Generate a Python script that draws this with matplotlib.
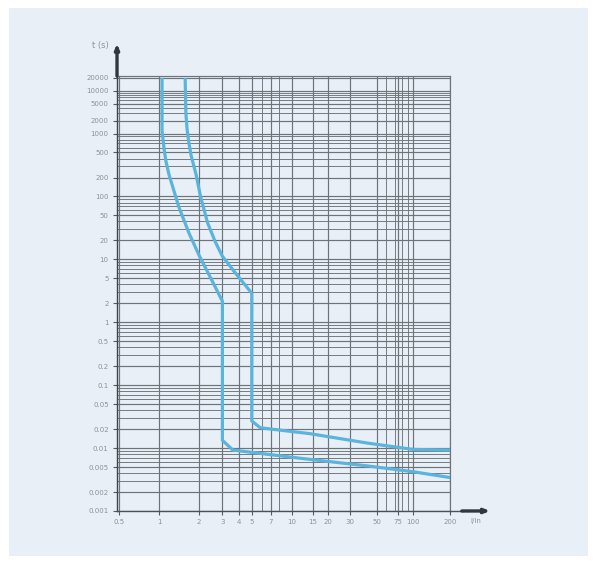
import matplotlib
matplotlib.use("Agg")
import matplotlib.pyplot as plt
from matplotlib.patches import Rectangle
import numpy as np

# tripping curve, I/In vs t (s)
x_min = [1.05, 1.05, 1.09, 1.125, 1.185, 1.27, 1.41, 1.68, 2.0, 2.32, 2.7, 3.0,
         3.0, 3.6, 11.7, 42, 100, 200]
t_min = [20000, 1160, 555, 359, 223, 138, 67, 26, 11.6, 6.3, 3.36, 2.16,
         0.0133, 0.0093, 0.0069, 0.0052, 0.0042, 0.0034]

x_max = [1.57, 1.59, 1.62, 1.66, 1.74, 1.9, 2.05, 2.32, 2.65, 3.0, 3.85, 5.0,
         5.0, 5.8, 14, 42, 100, 200]
t_max = [20000, 3000, 1350, 800, 450, 221, 100, 38, 19, 11.2, 5.7, 2.9,
         0.027, 0.021, 0.017, 0.012, 0.0095, 0.0093]

x_ticks = [0.5, 1, 2, 3, 4, 5, 7, 10, 15, 20, 30, 50, 75, 100, 200]
x_grid_extra = [6, 8, 60, 70, 80, 90]
t_ticks = [0.001, 0.002, 0.005, 0.01, 0.02, 0.05, 0.1, 0.2, 0.5, 1, 2, 5,
           10, 20, 50, 100, 200, 500, 1000, 2000, 5000, 10000, 20000]
t_grid = [m * 10.0 ** k for k in range(-3, 5) for m in range(1, 10) if m * 10.0 ** k <= 20000]

panel = '#e8eff6'
grid_c = '#6c7379'
curve_c = '#5ab4dc'
txt_c = '#8b9298'


def log_scale(brk, k):
    # log scale, squeezed by k above the decade brk (the catalog drawing does that)
    def fwd(v):
        l = np.log10(np.clip(np.asarray(v, dtype=float), 1e-12, None))
        return np.where(l <= brk, l, brk + k * (l - brk))

    def inv(u):
        u = np.asarray(u, dtype=float)
        return np.where(u <= brk, 10.0 ** u, 10.0 ** (brk + (u - brk) / k))
    return fwd, inv


fig = plt.figure(figsize=(5.97, 5.64), dpi=100)
fig.patches.append(Rectangle((0.015, 0.014), 0.97, 0.972, transform=fig.transFigure,
                             facecolor=panel, edgecolor='none', zorder=-1))
ax = fig.add_axes([0.196, 0.094, 0.558, 0.771])
ax.set_facecolor(panel)

ax.set_xscale('function', functions=log_scale(1, 0.92))
ax.set_yscale('function', functions=log_scale(3, 0.68))
ax.set_xlim(0.48, 200)
ax.set_ylim(0.001, 22000)

ax.set_xticks(x_ticks, [f'{v:g}' for v in x_ticks])
ax.set_xticks(x_grid_extra, minor=True)
ax.set_yticks(t_ticks, [f'{v:g}' for v in t_ticks])
ax.set_yticks(t_grid, minor=True)

ax.grid(which='major', color=grid_c, lw=0.85)
ax.grid(which='minor', color=grid_c, lw=0.65)
ax.tick_params(which='minor', length=0)
ax.tick_params(which='major', length=3, width=0.8, color='#555c62',
               labelsize=5, labelcolor=txt_c, pad=3)

for s in ['top', 'right']:
    ax.spines[s].set_color(grid_c)
    ax.spines[s].set_linewidth(0.85)
ax.spines['left'].set_color('#3b4348')
ax.spines['left'].set_linewidth(1.0)
ax.spines['bottom'].set_color('#4a5258')
ax.spines['bottom'].set_linewidth(1.0)

ax.plot(x_min, t_min, color=curve_c, lw=2.3, solid_capstyle='butt', zorder=3)
ax.plot(x_max, t_max, color=curve_c, lw=2.3, solid_capstyle='butt', zorder=3)

# axis arrows
ax.annotate('', xy=(0, 1.075), xytext=(0, 1.0), xycoords='axes fraction',
            arrowprops=dict(arrowstyle='-|>,head_width=0.12,head_length=0.3',
                            lw=2.4, color='#2f383d', shrinkA=0, shrinkB=0))
ax.plot([1.0, 1.04], [0, 0], transform=ax.transAxes, clip_on=False,
        color='#4a5258', lw=1.0)
ax.annotate('', xy=(1.12, 0), xytext=(1.035, 0), xycoords='axes fraction',
            arrowprops=dict(arrowstyle='-|>,head_width=0.12,head_length=0.3',
                            lw=2.4, color='#2f383d', shrinkA=0, shrinkB=0))

ax.text(-0.025, 1.071, 't (s)', transform=ax.transAxes, ha='right', va='center',
        fontsize=6, color=txt_c)
ax.text(1.078, -0.023, 'I/In', transform=ax.transAxes, ha='center', va='center',
        fontsize=5, color=txt_c)

plt.savefig('out.png', dpi=100, facecolor='white')
